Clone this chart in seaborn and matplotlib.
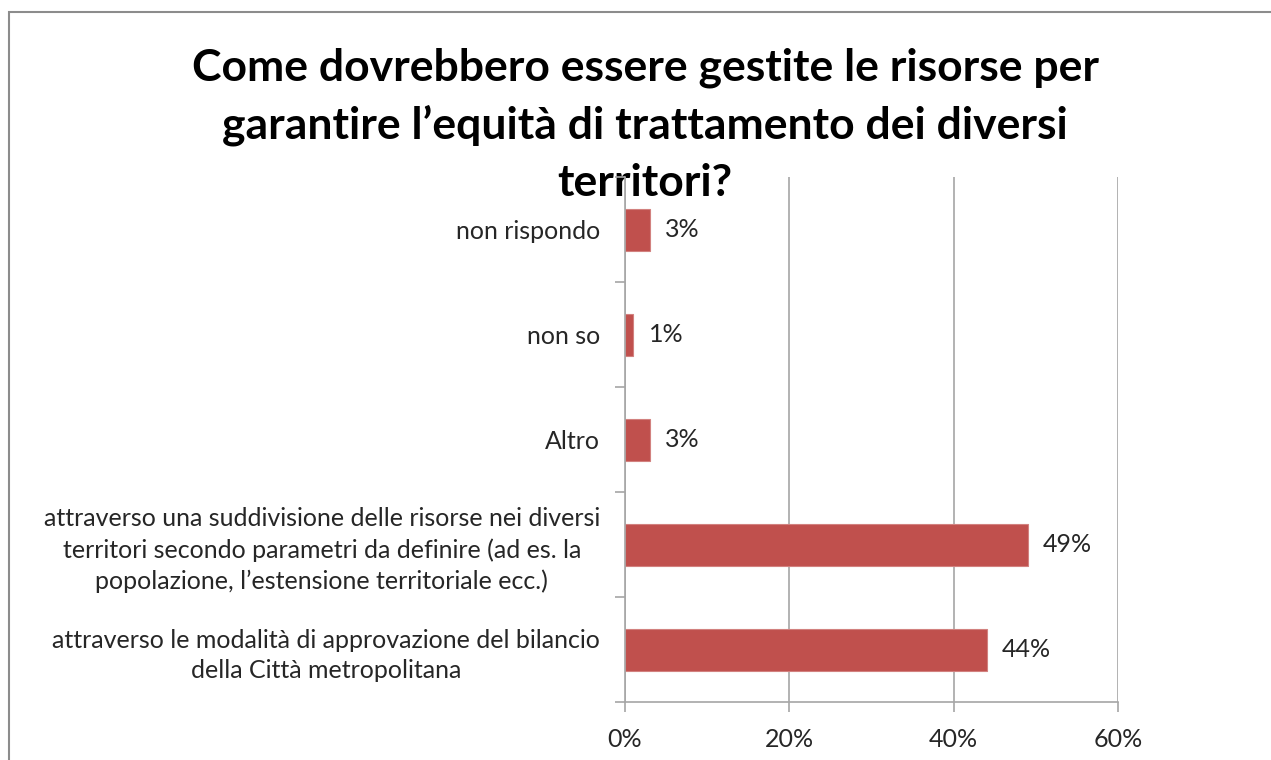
import matplotlib
matplotlib.use("Agg")
import matplotlib.pyplot as plt
import matplotlib.ticker as mticker
from matplotlib.patches import Rectangle
import seaborn as sns
import pandas as pd

# Survey answers (top to bottom) and share of respondents, in percent
categories = [
    "non rispondo",
    "non so",
    "Altro",
    "attraverso una suddivisione delle risorse nei diversi\n"
    "territori secondo parametri da definire (ad es. la\n"
    "popolazione, l\u2019estensione territoriale ecc.)",
    "attraverso le modalità di approvazione del bilancio\n"
    "della Città metropolitana",
]
values = [3, 1, 3, 49, 44]
x_ticks = [0, 20, 40, 60]

title = ("Come dovrebbero essere gestite le risorse per\n"
         "garantire l\u2019equità di trattamento dei diversi\n"
         "territori?")

sns.set_theme(style="white")
plt.rcParams["font.family"] = ["Lato", "DejaVu Sans"]

df = pd.DataFrame({"risposta": categories, "quota": values})

fig = plt.figure(figsize=(12.71, 7.6), dpi=100)
W, H = 1271, 760
ax = fig.add_axes([625 / W, 1 - 702 / H, (1118 - 625) / W, (702 - 177) / H])
ax.set_facecolor("none")

bar_color = "#C0504D"
sns.barplot(data=df, x="quota", y="risposta", orient="h", order=categories,
            color=bar_color, saturation=1, width=0.4,
            edgecolor="#D2817F", linewidth=0.8, ax=ax)

ax.set_xlim(0, 60)
ax.set_ylim(len(categories) - 0.5, -0.5)
ax.set_xticks(x_ticks)
ax.xaxis.set_major_formatter(mticker.FuncFormatter(lambda v, p: f"{v:.0f}%"))
ax.set_xlabel("")
ax.set_ylabel("")

grid_c = "#A6A6A6"
text_c = "#262626"
ax.grid(axis="x", color=grid_c, linewidth=1.2)
ax.set_axisbelow(True)
for side in ["top", "right"]:
    ax.spines[side].set_visible(False)
for side in ["left", "bottom"]:
    ax.spines[side].set_color(grid_c)
    ax.spines[side].set_linewidth(1.2)

# Category boundaries carry the y ticks, labels sit at the bar centres
ax.set_yticks([i + 0.5 for i in range(-1, len(categories))], minor=True)
ax.tick_params(axis="y", which="major", length=0, pad=18, labelsize=18,
               labelcolor=text_c)
ax.tick_params(axis="y", which="minor", length=7, width=1.2, color=grid_c,
               left=True, direction="out")
ax.tick_params(axis="x", which="major", length=7, width=1.2, color=grid_c,
               bottom=True, direction="out", pad=12, labelsize=18,
               labelcolor=text_c)
for lbl in ax.get_yticklabels():
    lbl.set_multialignment("center")
    lbl.set_linespacing(1.4)

for cont in ax.containers:
    ax.bar_label(cont, labels=[f"{v}%" for v in values], padding=11,
                 fontsize=18, color=text_c)

fig.text(645 / W, 1 - 125 / H, title, ha="center", va="center",
         fontsize=32, fontweight="bold", color="black",
         linespacing=1.5, zorder=-1)

# Chart frame
fig.patches.append(Rectangle((9 / W, -0.1), 1.2, 1 - 12 / H + 0.1,
                             transform=fig.transFigure, fill=False,
                             edgecolor="#8C8C8C", linewidth=1.5, zorder=-2))

fig.savefig("out.png", dpi=100)
